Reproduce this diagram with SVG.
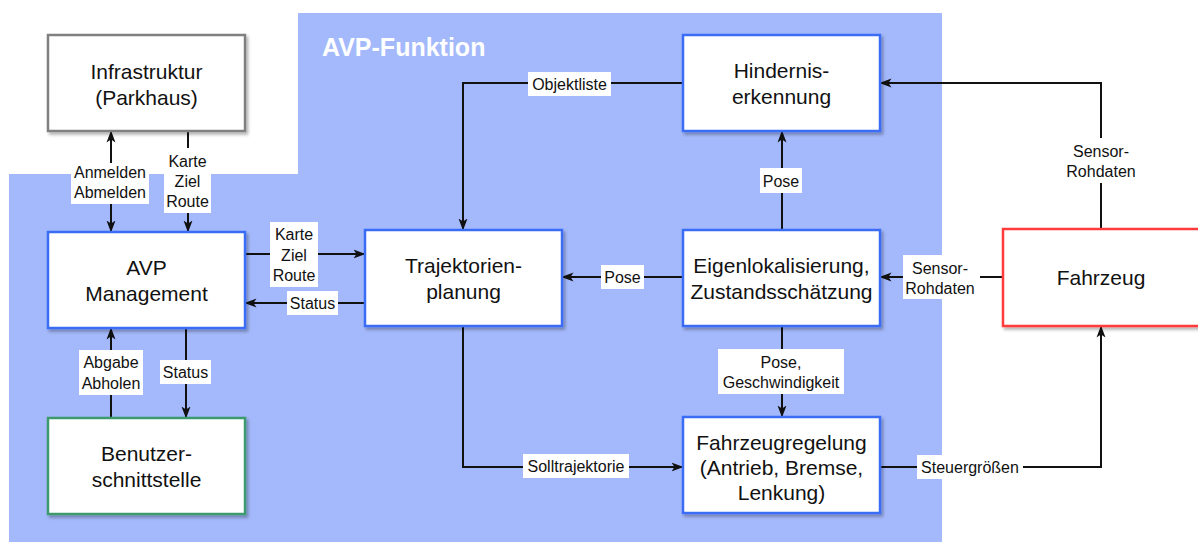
<svg xmlns="http://www.w3.org/2000/svg" width="1198" height="542" viewBox="0 0 1198 542">
<style>
.node{fill:#fff;stroke-width:2.5;filter:url(#sh)}
.blue{stroke:#3a6cf6}
.ntext{font-family:"Liberation Sans",Arial,sans-serif;font-size:21px;fill:#111;text-anchor:middle}
.ltext{font-family:"Liberation Sans",Arial,sans-serif;font-size:16px;fill:#111;text-anchor:middle}
.lbg{fill:#fff}
.conn{fill:none;stroke:#111;stroke-width:2}
</style>
<defs>
<filter id="sh" x="-10%" y="-10%" width="125%" height="130%">
<feDropShadow dx="2" dy="2.5" stdDeviation="1.5" flood-color="#000" flood-opacity="0.3"/>
</filter>
<marker id="ah" viewBox="0 0 12 10" refX="11.5" refY="5" markerWidth="12" markerHeight="10" markerUnits="userSpaceOnUse" orient="auto-start-reverse">
<path d="M0,0.5 L12,5 L0,9.5 L3,5 z" fill="#111"/>
</marker>
</defs>
<rect width="1198" height="542" fill="#fff"/>
<polygon points="298,13 942,13 942,542 9,542 9,174 298,174" fill="#a4b9fb"/>
<text x="322" y="56" font-family="Liberation Sans,Arial,sans-serif" font-size="25" font-weight="bold" fill="#fff">AVP-Funktion</text>

<g id="connectors">
<path class="conn" d="M111,131 L111,232" marker-start="url(#ah)" marker-end="url(#ah)"/>
<path class="conn" d="M188,131 L188,148"/>
<path class="conn" d="M188,213 L188,232" marker-end="url(#ah)"/>
<path class="conn" d="M245,254 L365,254" marker-end="url(#ah)"/>
<path class="conn" d="M365,303 L245,303" marker-end="url(#ah)"/>
<path class="conn" d="M111,418 L111,328" marker-end="url(#ah)"/>
<path class="conn" d="M186,328 L186,418" marker-end="url(#ah)"/>
<path class="conn" d="M683,83 L463,83 L463,230" marker-end="url(#ah)"/>
<path class="conn" d="M782,230 L782,131" marker-end="url(#ah)"/>
<path class="conn" d="M683,277 L562,277" marker-end="url(#ah)"/>
<path class="conn" d="M782,326 L782,417" marker-end="url(#ah)"/>
<path class="conn" d="M463,326 L463,467 L683,467" marker-end="url(#ah)"/>
<path class="conn" d="M1101,229 L1101,83 L880,83" marker-end="url(#ah)"/>
<path class="conn" d="M1003,277 L980,277"/>
<path class="conn" d="M903,277 L880,277" marker-end="url(#ah)"/>
<path class="conn" d="M880,467 L1101,467 L1101,326" marker-end="url(#ah)"/>

<rect class="lbg" x="71" y="163" width="78" height="41"/>
<text class="ltext" x="110" y="178">Anmelden</text>
<text class="ltext" x="110" y="198">Abmelden</text>

<rect class="lbg" x="164" y="152" width="47" height="61"/>
<text class="ltext" x="187.5" y="167">Karte</text>
<text class="ltext" x="187.5" y="187">Ziel</text>
<text class="ltext" x="187.5" y="207">Route</text>

<rect class="lbg" x="270" y="222" width="48" height="65"/>
<text class="ltext" x="294" y="240">Karte</text>
<text class="ltext" x="294" y="261">Ziel</text>
<text class="ltext" x="294" y="281">Route</text>

<rect class="lbg" x="287" y="291" width="51" height="24"/>
<text class="ltext" x="312.5" y="308.5">Status</text>

<rect class="lbg" x="79" y="350" width="64" height="45"/>
<text class="ltext" x="111" y="368">Abgabe</text>
<text class="ltext" x="111" y="389">Abholen</text>

<rect class="lbg" x="160" y="360" width="51" height="24"/>
<text class="ltext" x="185.5" y="377.5">Status</text>

<rect class="lbg" x="528" y="72" width="83" height="24"/>
<text class="ltext" x="569.5" y="89.5">Objektliste</text>

<rect class="lbg" x="760" y="168" width="42" height="25"/>
<text class="ltext" x="781" y="186.5">Pose</text>

<rect class="lbg" x="601" y="265" width="43" height="24"/>
<text class="ltext" x="622.5" y="283">Pose</text>

<rect class="lbg" x="718" y="349" width="126" height="45"/>
<text class="ltext" x="781" y="367.5">Pose,</text>
<text class="ltext" x="781" y="388">Geschwindigkeit</text>

<rect class="lbg" x="523" y="454" width="106" height="24"/>
<text class="ltext" x="576" y="472">Solltrajektorie</text>

<rect class="lbg" x="1065" y="138" width="72" height="45"/>
<text class="ltext" x="1101" y="157">Sensor-</text>
<text class="ltext" x="1101" y="177">Rohdaten</text>

<rect class="lbg" x="903" y="255" width="74" height="44"/>
<text class="ltext" x="940" y="274">Sensor-</text>
<text class="ltext" x="940" y="294">Rohdaten</text>

<rect class="lbg" x="917" y="455" width="106" height="24"/>
<text class="ltext" x="970" y="473">Steuergrößen</text>
</g>

<g id="infrastruktur">
<rect class="node" x="48" y="35" width="197" height="96" stroke="#808080" stroke-width="2"/>
<text class="ntext" x="146.5" y="78.5">Infrastruktur</text>
<text class="ntext" x="146.5" y="104.5">(Parkhaus)</text>
</g>
<g id="avp-management">
<rect class="node blue" x="48" y="232" width="197" height="96"/>
<text class="ntext" x="146.5" y="275">AVP</text>
<text class="ntext" x="146.5" y="301">Management</text>
</g>
<g id="benutzerschnittstelle">
<rect class="node" x="48" y="418" width="197" height="96" stroke="#3d9a6e"/>
<text class="ntext" x="146.5" y="461">Benutzer-</text>
<text class="ntext" x="146.5" y="487">schnittstelle</text>
</g>
<g id="trajektorienplanung">
<rect class="node blue" x="365" y="230" width="197" height="96"/>
<text class="ntext" x="463.5" y="273">Trajektorien-</text>
<text class="ntext" x="463.5" y="299">planung</text>
</g>
<g id="hinderniserkennung">
<rect class="node blue" x="683" y="35" width="197" height="96"/>
<text class="ntext" x="781.5" y="78">Hindernis-</text>
<text class="ntext" x="781.5" y="104">erkennung</text>
</g>
<g id="eigenlokalisierung">
<rect class="node blue" x="683" y="230" width="197" height="96"/>
<text class="ntext" x="781.5" y="273">Eigenlokalisierung,</text>
<text class="ntext" x="781.5" y="299">Zustandsschätzung</text>
</g>
<g id="fahrzeugregelung">
<rect class="node blue" x="683" y="417" width="197" height="96"/>
<text class="ntext" x="781.5" y="450">Fahrzeugregelung</text>
<text class="ntext" x="781.5" y="475">(Antrieb, Bremse,</text>
<text class="ntext" x="781.5" y="500">Lenkung)</text>
</g>
<g id="fahrzeug">
<rect class="node" x="1003" y="229" width="197" height="97" stroke="#ff3b3b" stroke-width="2"/>
<text class="ntext" x="1101" y="285">Fahrzeug</text>
</g>
</svg>
